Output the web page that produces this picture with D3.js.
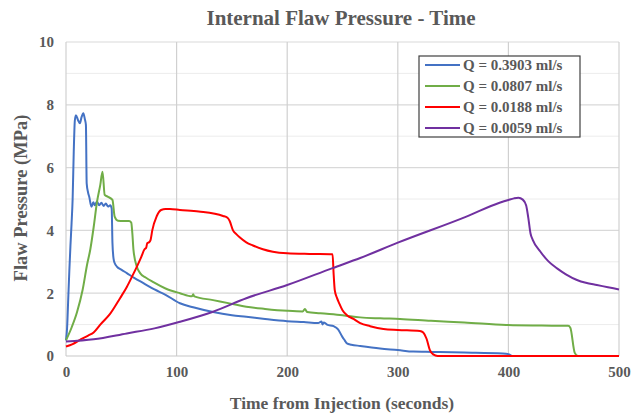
<!DOCTYPE html>
<html><head><meta charset="utf-8">
<script src="https://cdn.jsdelivr.net/npm/d3@7"></script>
<style>body{margin:0;background:#fff}svg{display:block}</style>
</head><body>
<svg id="c" width="642" height="417"></svg>
<script>
const seriesNames = ["Q = 0.3903 ml/s","Q = 0.0807 ml/s","Q = 0.0188 ml/s","Q = 0.0059 ml/s"];
const seriesColors = ["#4472C4","#70AD47","#FF0000","#7030A0"];
const xTicks = [0,100,200,300,400,500];
const yTicks = [0,2,4,6,8,10];

const blueT = [0,1,2,3,4,5,6,7,8,9,11,12.6,14,15.7,17,18,18.7,20,21,23,24.7,26,28,30,32,34,36,38,40,41.3,42,43,44,46,50,55,62,70,80,90,103,115,133,150,163,180,200,215,228,231,232,233,236,242,246,250,252,254,258,266,284,300,314,332,360,395,400,404,410];
const blueP = [0.5,0.9,1.8,2.7,3.5,4.2,5.0,6.5,7.5,7.67,7.5,7.41,7.6,7.73,7.55,7.36,5.5,5.2,5.07,4.75,4.9,4.8,4.92,4.8,4.88,4.78,4.86,4.76,4.8,4.7,3.6,3.1,2.96,2.85,2.75,2.64,2.48,2.32,2.12,1.95,1.68,1.55,1.4,1.3,1.25,1.18,1.11,1.08,1.05,1.1,1.0,1.07,1.0,0.95,0.85,0.6,0.5,0.4,0.36,0.32,0.24,0.19,0.14,0.13,0.11,0.08,0.06,0.0,0.0];

const greenT = [0,5,10,15,19,22,25,28,31,33,35,38,42,44,47,52,57,59,60,61,64,67,72,79,90,103,114,115,116,133,150,163,180,200,214,216,218,230,250,266,284,302,330,360,398,430,454,456,460,463,470];
const greenP = [0.5,0.9,1.4,2.1,2.9,3.4,4.1,4.9,5.45,5.87,5.13,5.07,4.97,4.44,4.31,4.3,4.3,4.25,3.9,3.38,2.85,2.64,2.5,2.35,2.15,2.0,1.9,1.97,1.9,1.78,1.66,1.57,1.5,1.44,1.42,1.5,1.4,1.36,1.3,1.23,1.2,1.18,1.12,1.07,0.99,0.97,0.96,0.9,0.1,0.0,0.0];

const redT = [0,6,12,20,25,31,40,49,55,60,64,68,71,72.5,73.5,75,76.5,78,82,86,90,94,103,120,142,146,148,151,154,157,163,169,178,187,200,220,241,242,243,245,247,250,254,260,266,275,287,300,320,323,326,329,332,336,350,400,450,500];
const redP = [0.3,0.38,0.5,0.65,0.75,1.0,1.35,1.85,2.2,2.55,2.84,3.15,3.4,3.45,3.6,3.62,3.7,4.0,4.45,4.65,4.68,4.68,4.65,4.6,4.46,4.4,4.3,4.0,3.88,3.78,3.62,3.52,3.4,3.32,3.27,3.25,3.24,2.6,2.1,1.85,1.68,1.46,1.3,1.18,1.05,0.95,0.86,0.83,0.8,0.75,0.55,0.19,0.05,0.0,0.0,0.0,0.0,0.0];

const purpleT = [0,25,55,80,103,133,163,200,241,266,300,362,392,400,405,409,413,416,418,420,422,429,436,444,452,462,470,480,490,500];
const purpleP = [0.46,0.53,0.72,0.88,1.09,1.41,1.84,2.26,2.8,3.12,3.61,4.44,4.88,4.97,5.02,5.04,4.98,4.8,4.4,3.9,3.7,3.32,3.02,2.79,2.6,2.42,2.33,2.26,2.19,2.12];

const series = [[blueT,blueP],[greenT,greenP],[redT,redP],[purpleT,purpleP]];

const svg = d3.select("#c");
const m = {l:66, r:619, t:42, b:356};
const x = d3.scaleLinear().domain([0,500]).range([m.l,m.r]);
const y = d3.scaleLinear().domain([0,10]).range([m.b,m.t]);
const font = "'Liberation Serif','Times New Roman',serif";
const txt = "#595959";

// minor horizontal grid
svg.append("g").selectAll("line").data(d3.range(1,10,2)).join("line")
  .attr("x1",m.l).attr("x2",m.r).attr("y1",d=>y(d)).attr("y2",d=>y(d))
  .attr("stroke","#ececec").attr("stroke-width",1);
// major horizontal grid
svg.append("g").selectAll("line").data(yTicks.slice(1)).join("line")
  .attr("x1",m.l).attr("x2",m.r).attr("y1",d=>y(d)).attr("y2",d=>y(d))
  .attr("stroke","#d9d9d9").attr("stroke-width",1.2);
// vertical grid
svg.append("g").selectAll("line").data(xTicks).join("line")
  .attr("x1",d=>x(d)).attr("x2",d=>x(d)).attr("y1",m.t).attr("y2",m.b)
  .attr("stroke","#d0d0d0").attr("stroke-width",1.2);
// bottom axis line
svg.append("line").attr("x1",m.l).attr("x2",m.r).attr("y1",m.b).attr("y2",m.b)
  .attr("stroke","#c8c8c8").attr("stroke-width",1.2);

const xAxis = svg.append("g").attr("transform",`translate(0,${m.b})`)
  .call(d3.axisBottom(x).tickValues(xTicks).tickSize(0).tickPadding(10));
const yAxis = svg.append("g").attr("transform",`translate(${m.l},0)`)
  .call(d3.axisLeft(y).tickValues(yTicks).tickSize(0).tickPadding(12));
[xAxis,yAxis].forEach(a=>{
  a.select(".domain").remove();
  a.selectAll("text").attr("font-family",font).attr("font-weight","bold")
    .attr("font-size",15).attr("fill",txt);
});

const line = d3.line().x(d=>x(d[0])).y(d=>y(d[1])).curve(d3.curveMonotoneX);
series.forEach((s,i)=>{
  const pts = s[0].map((t,j)=>[t,s[1][j]]);
  svg.append("path").datum(pts).attr("d",line).attr("fill","none")
    .attr("stroke",seriesColors[i]).attr("stroke-width",2).attr("stroke-linejoin","round");
});

svg.append("text").attr("x",341).attr("y",25).attr("text-anchor","middle")
  .attr("font-family",font).attr("font-weight","bold").attr("font-size",21)
  .attr("fill",txt).text("Internal Flaw Pressure - Time");
svg.append("text").attr("x",342).attr("y",409).attr("text-anchor","middle")
  .attr("font-family",font).attr("font-weight","bold").attr("font-size",17.5)
  .attr("fill",txt).text("Time from Injection (seconds)");
svg.append("text").attr("transform","translate(27,198) rotate(-90)").attr("text-anchor","middle")
  .attr("font-family",font).attr("font-weight","bold").attr("font-size",18.5)
  .attr("fill",txt).text("Flaw Pressure (MPa)");

const lg = svg.append("g");
lg.append("rect").attr("x",419).attr("y",56).attr("width",161).attr("height",81)
  .attr("fill","#fff").attr("stroke","#404040").attr("stroke-width",1.2);
seriesNames.forEach((n,i)=>{
  const yy = 65 + i*21;
  lg.append("line").attr("x1",425).attr("x2",460).attr("y1",yy).attr("y2",yy)
    .attr("stroke",seriesColors[i]).attr("stroke-width",2);
  lg.append("text").attr("x",463).attr("y",yy+5).attr("font-family",font)
    .attr("font-weight","bold").attr("font-size",15).attr("fill",txt).text(n);
});
</script>
</body></html>
